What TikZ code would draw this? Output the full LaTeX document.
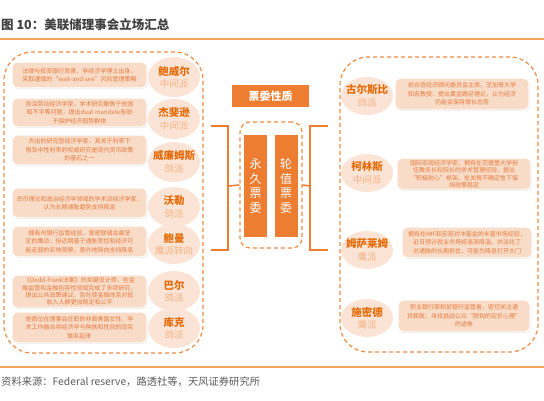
\documentclass[tikz,border=0pt]{standalone}
\usepackage{fontspec}
\setmainfont{Noto Sans CJK SC}
\usetikzlibrary{shapes.geometric,shadows}
\XeTeXlinebreaklocale "zh"

\definecolor{deeporange}{HTML}{ED7D31}
\definecolor{ruleorange}{HTML}{F5A25D}
\definecolor{dashorange}{HTML}{F08A40}
\definecolor{biofill}{HTML}{F8DCC8}
\definecolor{biotext}{HTML}{E8793A}
\definecolor{ovalfill}{HTML}{FBE4D5}
\definecolor{namecolor}{HTML}{E46C0A}
\definecolor{sidecolor}{HTML}{F4B183}
\definecolor{titlegray}{HTML}{404040}
\definecolor{srcgray}{HTML}{595959}

\tikzset{
  bio/.style={rounded corners=5pt, fill=biofill, draw=white, line width=1.3pt,
    drop shadow={opacity=0.3, shadow xshift=0.7pt, shadow yshift=-0.9pt},
    text=biotext, font=\fontsize{6}{8.5}\selectfont, align=center, inner sep=2pt},
  oval/.style={ellipse, fill=ovalfill, minimum width=52pt, minimum height=40pt, inner sep=0pt},
  member/.style={text=namecolor, font=\fontsize{10.5}{12}\selectfont\bfseries},
  side/.style={text=sidecolor, font=\fontsize{9.5}{11}\selectfont},
  panel/.style={draw=dashorange, line width=1.2pt, dash pattern=on 4pt off 3pt, inner sep=0pt},
  bar/.style={fill=deeporange, text=white, minimum height=102pt, text width=12pt,
    inner xsep=5.5pt, align=center, font=\fontsize{12}{14.5}\selectfont},
  bracket/.style={deeporange, line width=1.6pt}
}

\begin{document}
\begin{tikzpicture}[x=1pt, y=-1pt]
    \useasboundingbox (0,0) rectangle (544,400);

    % Title and rules
    \node[anchor=west, inner sep=0pt, text=titlegray, font=\fontsize{12.5}{14}\selectfont\bfseries] (title) at (1,25) {图 10：美联储理事会立场汇总};
    \draw[ruleorange, line width=1.8pt] (0,39) -- (544,39);
    \draw[ruleorange, line width=1.8pt] (0,367) -- (544,367);
    \node[anchor=west, inner sep=0pt, text=srcgray, font=\fontsize{10.3}{12}\selectfont] (source) at (1,382) {资料来源：Federal reserve，路透社等，天风证券研究所};

    % Dashed panels
    \node[panel, rounded corners=28pt, minimum width=199pt, minimum height=301pt] (leftpanel) at (103.5,202.5) {};
    \node[panel, rounded corners=28pt, minimum width=198pt, minimum height=295pt] (rightpanel) at (439,204.5) {};

    % Left side: descriptions
    \node[bio, text width=131pt, minimum height=26pt] (powellbio) at (79.5,75) {法律与投资银行背景，非经济学博士出身，\\采取谨慎的“wait-and-see”风险管理策略};
    \node[bio, text width=131pt, minimum height=29pt] (jeffersonbio) at (79.5,112.5) {资深劳动经济学家，学术研究聚焦于贫困\\和不平等问题，提出dual mandate有助\\于保护经济弱势群体};
    \node[bio, text width=131pt, minimum height=30pt] (williamsbio) at (79.5,150) {杰出的研究型经济学家，其关于利率下\\限及中性利率的权威研究是现代货币政策\\的基石之一};
    \node[bio, text width=131pt, minimum height=30pt] (wallerbio) at (79.5,203) {货币理论和政治经济学领域的学术派经济学家，\\认为长期通胀趋势支持降息};
    \node[bio, text width=131pt, minimum height=31pt] (bowmanbio) at (79.5,241.5) {拥有州银行监管经验，曾是联储会最坚\\定的鹰派，但近期基于通胀受控和经济可\\能走弱的实地观察，意外地转向支持降息};
    \node[bio, text width=131pt, minimum height=33pt, font=\fontsize{6}{7.4}\selectfont] (barrbio) at (79.5,291.5) {《Dodd-Frank法案》的关键设计师，在金\\融监管和金融包容性领域完成了多项研究，\\提出公共政策建议，旨在使金融体系对低\\收入人群更加稳定和公平};
    \node[bio, text width=131pt, minimum height=31pt] (cookbio) at (79.5,327.5) {是首位在理事会任职的非裔美国女性，学\\术工作融合将经济学与种族和性别的现实\\联系起来};

    % Left side: members
    \node[oval] (powell) at (174,77) {};
    \node[member] (powell-name) at (174,71) {鲍威尔};
    \node[side] (powell-side) at (174,84) {中间派};
    \node[oval] (jefferson) at (174,119) {};
    \node[member] (jefferson-name) at (174,113) {杰斐逊};
    \node[side] (jefferson-side) at (174,126) {中间派};
    \node[oval] (williams) at (174,162) {};
    \node[member] (williams-name) at (174,156) {威廉姆斯};
    \node[side] (williams-side) at (174,169) {鸽派};
    \node[oval] (waller) at (174,207) {};
    \node[member] (waller-name) at (174,201) {沃勒};
    \node[side] (waller-side) at (174,214) {鸽派};
    \node[oval] (bowman) at (174,244) {};
    \node[member] (bowman-name) at (174,238) {鲍曼};
    \node[side] (bowman-side) at (174,251) {鹰派转向};
    \node[oval] (barr) at (174,291) {};
    \node[member] (barr-name) at (174,285) {巴尔};
    \node[side] (barr-side) at (174,298) {鸽派};
    \node[oval] (cook) at (174,328) {};
    \node[member] (cook-name) at (174,322) {库克};
    \node[side] (cook-side) at (174,335) {鸽派};

    % Middle: voter types
    \node[fill=deeporange, text=white, font=\fontsize{11}{13}\selectfont\bfseries, minimum width=77pt, minimum height=22pt] (nature) at (270.5,96) {票委性质};
    \node[panel, rounded corners=10pt, minimum width=62pt, minimum height=126pt] (voters) at (271,185) {};
    \node[bar] (permanent) at (255.5,186) {永\\久\\票\\委};
    \node[bar] (rotating) at (286,186) {轮\\值\\票\\委};

    \coordinate (lbtop) at (211,126);
    \coordinate (lbbot) at (211,250);
    \coordinate (rbtop) at (328,126);
    \coordinate (rbbot) at (328,250);
    \draw[bracket] (lbtop) -- (228,126) -- (228,250) -- (lbbot);
    \draw[bracket] (228,186) -- (voters.west);
    \draw[bracket] (rbtop) -- (310,126) -- (310,250) -- (rbbot);
    \draw[bracket] (310,186) -- (voters.east);

    % Right side: descriptions
    \node[bio, text width=130pt, minimum height=32pt] (goolsbeebio) at (462,94) {前白宫经济顾问委员会主席，芝加哥大学\\知名教授，提出黄金路径理论，认为经济\\仍能会保持增长态势};
    \node[bio, text width=130pt, minimum height=32pt, font=\fontsize{6}{7.4}\selectfont] (collinsbio) at (464,174) {国际宏观经济学家，拥有在范德堡大学担\\任教务长和院长的学术管理经验，提出\\“积极耐心”框架，在关税不确定性下保\\持政策稳定};
    \node[bio, text width=126pt, minimum height=31pt] (musalembio) at (467,242.5) {拥有在IMF和宏观对冲基金的丰富市场经验，\\近日预计就业市场将逐渐降温，并淡化了\\对通胀的长期担忧，可能为降息打开大门};
    \node[bio, text width=128pt, minimum height=32pt] (schmidbio) at (464,316) {职业银行家和前银行监管者，密切关注通\\货膨胀，寻找挑战公众“脱钩的定价心理”\\的迹象};

    % Right side: members
    \node[oval, minimum height=38pt] (goolsbee) at (367,96) {};
    \node[member] (goolsbee-name) at (367,90) {古尔斯比};
    \node[side] (goolsbee-side) at (367,103) {鸽派};
    \node[oval, minimum height=38pt] (collins) at (367,173) {};
    \node[member] (collins-name) at (367,167) {柯林斯};
    \node[side] (collins-side) at (367,180) {中间派};
    \node[oval, minimum height=38pt] (musalem) at (367,250) {};
    \node[member] (musalem-name) at (367,244) {姆萨莱姆};
    \node[side] (musalem-side) at (367,257) {鹰派};
    \node[oval, minimum height=38pt] (schmid) at (367,318) {};
    \node[member] (schmid-name) at (367,312) {施密德};
    \node[side] (schmid-side) at (367,325) {鹰派};

\end{tikzpicture}
\end{document}
